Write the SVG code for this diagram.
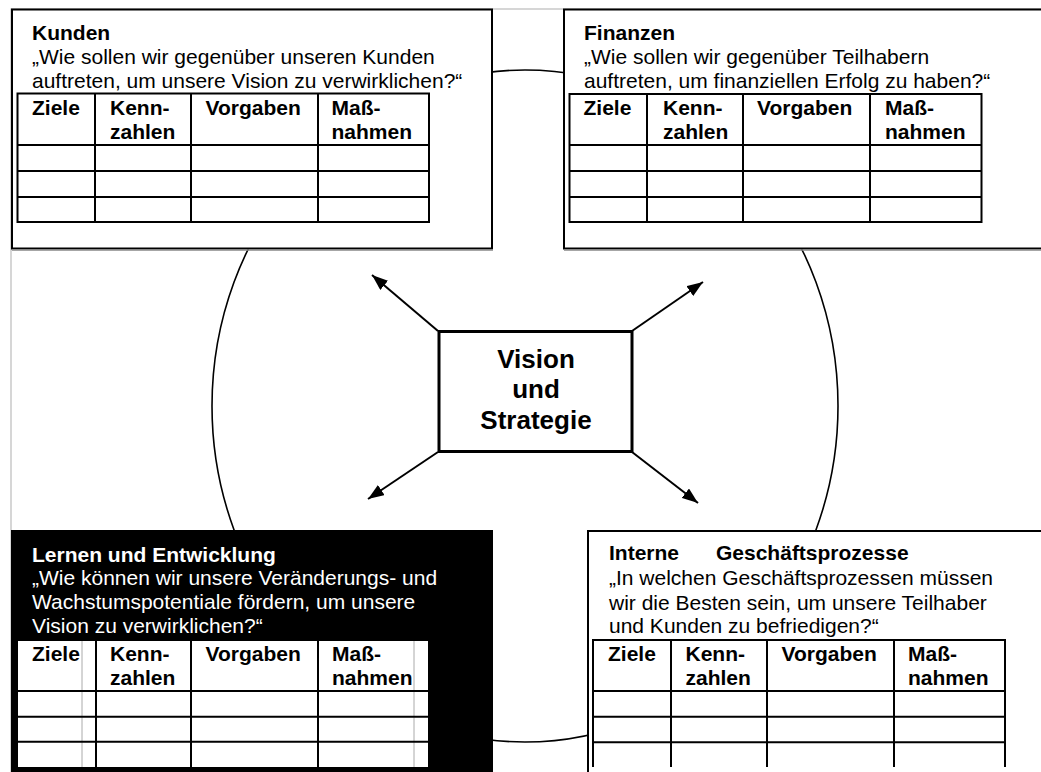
<svg xmlns="http://www.w3.org/2000/svg" width="1041" height="772" viewBox="0 0 1041 772">
<style>
text{font-family:"Liberation Sans",Arial,sans-serif;font-size:21px;fill:#000}
.b{font-weight:bold}
.w{fill:#fff}
.box{fill:#fff;stroke:#000;stroke-width:2}
.shadow{stroke:#888;stroke-width:1.5;fill:none}
.grid{stroke:#000;stroke-width:2;fill:none}
.conn{stroke:#000;stroke-width:2;fill:none}
.vis{font-size:26px;font-weight:bold;text-anchor:middle}
</style>
<defs>
<marker id="arrow" viewBox="0 0 16 12" refX="16" refY="6" markerWidth="16" markerHeight="12" markerUnits="userSpaceOnUse" orient="auto">
<path d="M0,0 L16,6 L0,12 z" fill="#000"/>
</marker>
</defs>
<rect width="1041" height="772" fill="#fff"/>
<rect x="11" y="9" width="1040" height="780" fill="none" stroke="#bbb" stroke-width="1.2"/>
<g id="cycle">
<ellipse cx="525" cy="406" rx="313" ry="336" fill="none" stroke="#000" stroke-width="1.6"/>
</g>
<g id="connectors">
<line class="conn" x1="438" y1="331" x2="372" y2="275" marker-end="url(#arrow)"/>
<line class="conn" x1="632" y1="331" x2="703" y2="282" marker-end="url(#arrow)"/>
<line class="conn" x1="438" y1="452" x2="368" y2="499" marker-end="url(#arrow)"/>
<line class="conn" x1="632" y1="452" x2="698" y2="503" marker-end="url(#arrow)"/>
</g>
<g id="node-vision">
<rect x="439" y="331.5" width="193" height="120" fill="#fff" stroke="#000" stroke-width="3"/>
<text class="vis" x="536" y="368">Vision</text>
<text class="vis" x="536" y="398">und</text>
<text class="vis" x="536" y="429">Strategie</text>
</g>
<g id="node-kunden">
<rect class="box" x="12" y="9.5" width="480" height="239"/>
<line class="shadow" x1="12" y1="250" x2="493" y2="250"/>
<text class="b" x="32" y="40">Kunden</text>
<text x="32" y="64">„Wie sollen wir gegenüber unseren Kunden</text>
<text x="32" y="87.5">auftreten, um unsere Vision zu verwirklichen?“</text>
<rect class="grid" x="17.5" y="93.5" width="411.5" height="128.5"/>
<path class="grid" d="M95,93.5V222M191,93.5V222M318,93.5V222M17.5,145H429M17.5,171H429M17.5,197H429"/>
<text class="b" x="32" y="115">Ziele</text>
<text class="b" x="110" y="115">Kenn-</text>
<text class="b" x="110" y="138.5">zahlen</text>
<text class="b" x="205.5" y="115">Vorgaben</text>
<text class="b" x="331.5" y="115">Maß-</text>
<text class="b" x="331.5" y="138.5">nahmen</text>
</g>
<g id="node-finanzen">
<rect class="box" x="564" y="9.5" width="490" height="239"/>
<line class="shadow" x1="564" y1="250" x2="1041" y2="250"/>
<text class="b" x="584" y="40">Finanzen</text>
<text x="584" y="64">„Wie sollen wir gegenüber Teilhabern</text>
<text x="584" y="87.5">auftreten, um finanziellen Erfolg zu haben?“</text>
<rect class="grid" x="569.5" y="94" width="412" height="128"/>
<path class="grid" d="M647,94V222M743,94V222M870,94V222M569.5,145H981.5M569.5,171H981.5M569.5,197H981.5"/>
<text class="b" x="583.5" y="115">Ziele</text>
<text class="b" x="663" y="115">Kenn-</text>
<text class="b" x="663" y="138.5">zahlen</text>
<text class="b" x="757" y="115">Vorgaben</text>
<text class="b" x="885" y="115">Maß-</text>
<text class="b" x="885" y="138.5">nahmen</text>
</g>
<g id="node-lernen">
<rect x="11" y="530" width="482" height="250" fill="#000"/>
<text class="b w" x="32" y="561.5">Lernen und Entwicklung</text>
<text class="w" x="32" y="585">„Wie können wir unsere Veränderungs- und</text>
<text class="w" x="32" y="609">Wachstumspotentiale fördern, um unsere</text>
<text class="w" x="32" y="632.5">Vision zu verwirklichen?“</text>
<rect x="18" y="641" width="410" height="126" fill="#fff"/>
<path d="M82,641V767M414,641V767" stroke="#aaa" stroke-width="1" fill="none"/>
<path class="grid" d="M96,641V767M191,641V767M318,641V767M18,691H428M18,716.7H428M18,741.7H428"/>
<text class="b" x="32" y="661">Ziele</text>
<text class="b" x="110" y="661">Kenn-</text>
<text class="b" x="110" y="684.5">zahlen</text>
<text class="b" x="205.5" y="661">Vorgaben</text>
<text class="b" x="332" y="661">Maß-</text>
<text class="b" x="332" y="684.5">nahmen</text>
</g>
<g id="node-interne">
<rect class="box" x="588" y="531" width="470" height="260"/>
<text class="b" x="609" y="560">Interne<tspan x="716">Geschäftsprozesse</tspan></text>
<text x="609" y="585">„In welchen Geschäftsprozessen müssen</text>
<text x="609" y="609.5">wir die Besten sein, um unsere Teilhaber</text>
<text x="609" y="632.5">und Kunden zu befriedigen?“</text>
<path class="grid" d="M592,640H1006M593,640V767M1005,640V767M671,640V767M767,640V767M894,640V767M593,691H1005M593,716.7H1005M593,742.3H1005"/>
<text class="b" x="608" y="661">Ziele</text>
<text class="b" x="685.5" y="661">Kenn-</text>
<text class="b" x="685.5" y="684.5">zahlen</text>
<text class="b" x="781.5" y="661">Vorgaben</text>
<text class="b" x="908" y="661">Maß-</text>
<text class="b" x="908" y="684.5">nahmen</text>
</g>
</svg>
